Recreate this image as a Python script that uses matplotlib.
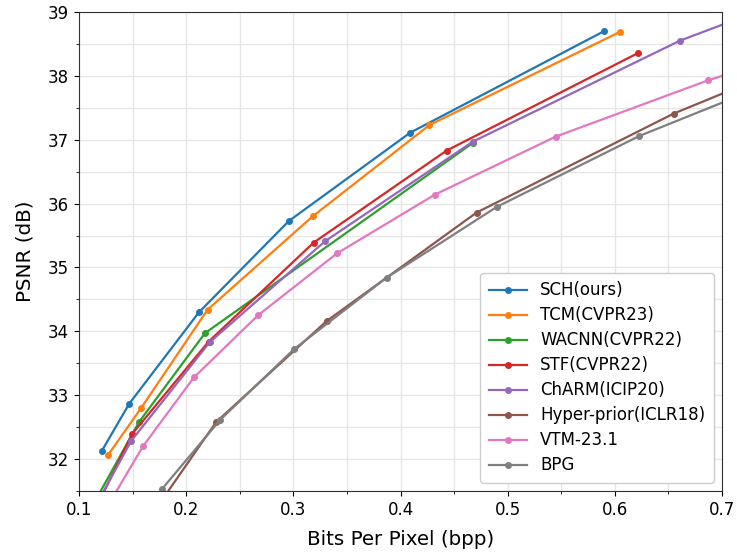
import matplotlib
matplotlib.use("Agg")
import matplotlib.pyplot as plt
from matplotlib.ticker import MultipleLocator

labels = ["SCH(ours)", "TCM(CVPR23)", "WACNN(CVPR22)", "STF(CVPR22)",
          "ChARM(ICIP20)", "Hyper-prior(ICLR18)", "VTM-23.1", "BPG"]

sch_x = [0.121, 0.147, 0.212, 0.296, 0.409, 0.590]
sch_y = [32.12, 32.87, 34.30, 35.73, 37.11, 38.70]

tcm_x = [0.127, 0.158, 0.220, 0.318, 0.427, 0.605]
tcm_y = [32.06, 32.80, 34.34, 35.80, 37.23, 38.69]

wacnn_x = [0.112, 0.156, 0.2175, 0.4675]
wacnn_y = [31.25, 32.58, 33.97, 36.95]

stf_x = [0.115, 0.1494, 0.221, 0.319, 0.443, 0.622]
stf_y = [31.20, 32.39, 33.84, 35.39, 36.83, 38.36]

charm_x = [0.115, 0.1485, 0.222, 0.3295, 0.4675, 0.6606, 0.85]
charm_y = [31.25, 32.28, 33.83, 35.41, 36.97, 38.55, 39.75]

hyper_x = [0.175, 0.228, 0.331, 0.471, 0.655, 0.80]
hyper_y = [31.30, 32.58, 34.16, 35.86, 37.41, 38.41]

vtm_x = [0.128, 0.1597, 0.2073, 0.267, 0.3407, 0.432, 0.545, 0.687, 0.85]
vtm_y = [31.30, 32.20, 33.28, 34.25, 35.22, 36.14, 37.05, 37.93, 38.80]

bpg_x = [0.1774, 0.2315, 0.3006, 0.387, 0.490, 0.623, 0.78]
bpg_y = [31.53, 32.61, 33.72, 34.84, 35.95, 37.06, 38.12]

series = [(sch_x, sch_y), (tcm_x, tcm_y), (wacnn_x, wacnn_y), (stf_x, stf_y),
          (charm_x, charm_y), (hyper_x, hyper_y), (vtm_x, vtm_y), (bpg_x, bpg_y)]
colors = ["#1f77b4", "#ff7f0e", "#2ca02c", "#d62728",
          "#9467bd", "#8c564b", "#e377c2", "#7f7f7f"]

fig = plt.figure(figsize=(7.37, 5.59), dpi=100)
ax = fig.add_axes([79/737, 1-491/559, (722-79)/737, (491-12)/559])

for (x, y), lab, c in zip(series, labels, colors):
    ax.plot(x, y, marker="o", markersize=4, linewidth=1.6, color=c, label=lab)

ax.set_xlim(0.1, 0.7)
ax.set_ylim(31.5, 39)
ax.xaxis.set_major_locator(MultipleLocator(0.1))
ax.xaxis.set_minor_locator(MultipleLocator(0.05))
ax.yaxis.set_major_locator(MultipleLocator(1))
ax.yaxis.set_minor_locator(MultipleLocator(0.5))
ax.grid(True, which="both", color="#e6e6e6", linewidth=1.0)
ax.set_axisbelow(True)
ax.tick_params(axis="both", which="major", labelsize=12)
ax.set_xlabel("Bits Per Pixel (bpp)", fontsize=14.3, labelpad=8)
ax.set_ylabel("PSNR (dB)", fontsize=14.3, labelpad=10)
for s in ax.spines.values():
    s.set_color("#333333")
ax.legend(loc="lower right", fontsize=12, framealpha=1.0, edgecolor="#cccccc",
          handlelength=2.3, borderpad=0.5, labelspacing=0.42)

fig.savefig("out.png", dpi=100)
